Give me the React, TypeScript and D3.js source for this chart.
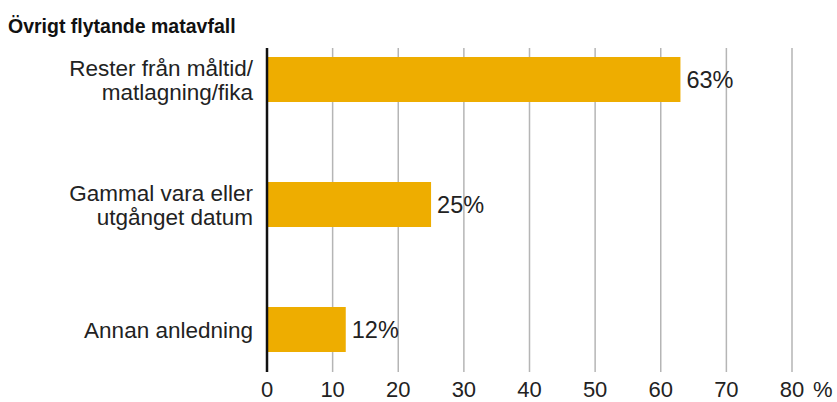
import * as React from 'react';
import * as d3 from 'd3';

const categories: string[][] = [
  ['Rester från måltid/', 'matlagning/fika'],
  ['Gammal vara eller', 'utgånget datum'],
  ['Annan anledning'],
];
const values: number[] = [63, 25, 12];
const ticks: number[] = [0, 10, 20, 30, 40, 50, 60, 70, 80];
const title = 'Övrigt flytande matavfall';

const W = 837;
const H = 402;
const FONT = '"Liberation Sans", Arial, sans-serif';

export default function App() {
  const x = d3.scaleLinear().domain([0, 80]).range([267, 792]);
  const y = d3
    .scaleBand<number>()
    .domain(d3.range(values.length))
    .range([17, 392])
    .paddingInner(0.64)
    .paddingOuter(0.32);

  const gridTop = 48;
  const gridBottom = 372;

  return (
    <svg
      width={W}
      height={H}
      style={{ position: 'absolute', left: 0, top: 0, background: '#fff' }}
      fontFamily={FONT}
    >
      <text x={8} y={33} fontSize={19.5} fontWeight="bold" fill="#111">
        {title}
      </text>

      {/* gridlines */}
      {ticks.slice(1).map((t) => (
        <line
          key={t}
          x1={x(t)}
          x2={x(t)}
          y1={gridTop}
          y2={gridBottom}
          stroke="#b5b5b5"
          strokeWidth={1.5}
        />
      ))}

      {/* bars */}
      {values.map((v, i) => (
        <g key={i}>
          <rect
            x={x(0)}
            y={y(i)}
            width={x(v) - x(0)}
            height={y.bandwidth()}
            fill="#EEAD00"
          />
          <text
            x={x(v) + 6}
            y={(y(i) as number) + y.bandwidth() / 2 + 8.5}
            fontSize={23.5}
            fill="#222"
          >
            {v + '%'}
          </text>
        </g>
      ))}

      {/* axis line */}
      <line
        x1={x(0)}
        x2={x(0)}
        y1={gridTop}
        y2={gridBottom}
        stroke="#111"
        strokeWidth={2.5}
      />

      {/* category labels */}
      {categories.map((lines, i) => {
        const cy = (y(i) as number) + y.bandwidth() / 2;
        const first = lines.length === 1 ? cy + 8 : cy - 3.5;
        return (
          <text key={i} x={253} textAnchor="end" fontSize={22.5} fill="#222">
            {lines.map((l, k) => (
              <tspan key={k} x={253} y={first + k * 24}>
                {l}
              </tspan>
            ))}
          </text>
        );
      })}

      {/* tick labels */}
      {ticks.map((t) => (
        <text
          key={t}
          x={x(t)}
          y={397}
          textAnchor="middle"
          fontSize={22}
          fill="#222"
        >
          {t}
        </text>
      ))}
      <text x={x(80) + 21} y={397} fontSize={22} fill="#222">
        %
      </text>
    </svg>
  );
}
